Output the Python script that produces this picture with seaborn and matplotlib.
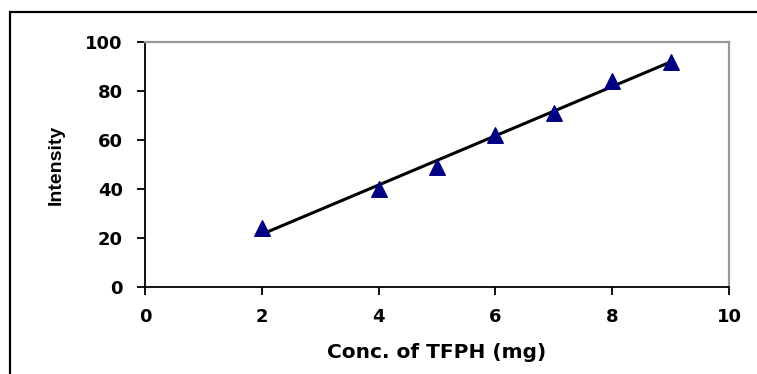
import numpy as np
import matplotlib.pyplot as plt
import seaborn as sns
from matplotlib.patches import Rectangle

conc = [2, 4, 5, 6, 7, 8, 9]
intensity = [24, 40, 49, 62, 71, 84, 92]
x_ticks = [0, 2, 4, 6, 8, 10]
y_ticks = [0, 20, 40, 60, 80, 100]

sns.set_style("white")
plt.rcParams['font.family'] = ['DejaVu Sans']
plt.rcParams['text.color'] = 'black'
plt.rcParams['axes.labelcolor'] = 'black'
plt.rcParams['xtick.color'] = 'black'
plt.rcParams['ytick.color'] = 'black'

fig = plt.figure(figsize=(7.57, 3.74), dpi=100)
ax = fig.add_axes([145 / 757, 1 - 287 / 374, (729 - 145) / 757, (287 - 42) / 374])

# outer frame of the original graphic
fig.patches.append(Rectangle((10 / 757, -0.1), 1.2, 1 - 12 / 374 + 0.1,
                             transform=fig.transFigure, fill=False,
                             edgecolor='black', linewidth=1.6, zorder=0))

sns.regplot(x=conc, y=intensity, ax=ax, ci=None, truncate=True,
            marker='^', scatter_kws=dict(s=125, color='#000080', edgecolor='#000080',
                                         alpha=1, zorder=3),
            line_kws=dict(color='black', linewidth=2.2, zorder=2))

ax.set_xlim(0, 10)
ax.set_ylim(0, 100)
ax.set_xticks(x_ticks)
ax.set_yticks(y_ticks)

for side in ['left', 'bottom']:
    ax.spines[side].set_color('black')
    ax.spines[side].set_linewidth(1.3)
for side in ['right', 'top']:
    ax.spines[side].set_color('#999999')
    ax.spines[side].set_linewidth(1.6)

ax.tick_params(axis='both', which='major', direction='out', length=6, width=1.3,
               color='black', labelcolor='black', labelsize=13, bottom=True, left=True)
ax.tick_params(axis='y', pad=10)
ax.tick_params(axis='x', pad=9)
for lbl in ax.get_xticklabels() + ax.get_yticklabels():
    lbl.set_fontweight('bold')

ax.set_xlabel('Conc. of TFPH (mg)', fontsize=14.5, fontweight='bold', labelpad=12)
ax.set_ylabel('Intensity', fontsize=14, fontweight='bold', labelpad=15,
              family=['Liberation Sans Narrow', 'Liberation Sans', 'DejaVu Sans'])

fig.savefig('out.png', dpi=100)
